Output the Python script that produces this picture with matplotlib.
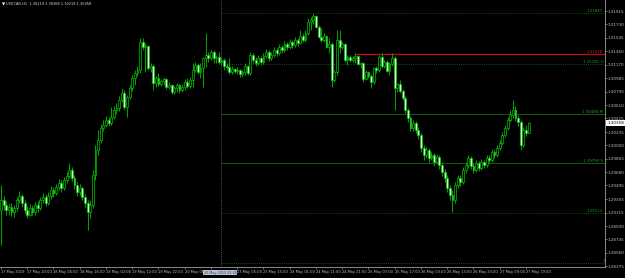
import numpy as np
import matplotlib.pyplot as plt
from matplotlib.transforms import blended_transform_factory

# USDCAD H1 candles
opens = [1.2915, 1.2929, 1.2922, 1.2915, 1.2919, 1.2912, 1.2918, 1.2929, 1.2935, 1.2925,
         1.2915, 1.2909, 1.2918, 1.2912, 1.2922, 1.2918, 1.2929, 1.2933, 1.2925, 1.2935,
         1.2943, 1.2939, 1.2947, 1.2953, 1.2946, 1.2957, 1.2963, 1.2971, 1.2960, 1.2950,
         1.2940, 1.2946, 1.2933, 1.2925, 1.2912, 1.2922, 1.2964, 1.2999, 1.3012, 1.3029,
         1.3033, 1.3040, 1.3036, 1.3044, 1.3054, 1.3057, 1.3068, 1.3078, 1.3058, 1.3072,
         1.3085, 1.3099, 1.3106, 1.3110, 1.3148, 1.3142, 1.3143, 1.3112, 1.3115, 1.3092,
         1.3099, 1.3090, 1.3094, 1.3097, 1.3086, 1.3089, 1.3079, 1.3085, 1.3089, 1.3082,
         1.3086, 1.3093, 1.3087, 1.3096, 1.3110, 1.3117, 1.3107, 1.3112, 1.3126, 1.3130,
         1.3126, 1.3135, 1.3126, 1.3128, 1.3121, 1.3124, 1.3115, 1.3114, 1.3107, 1.3111,
         1.3108, 1.3110, 1.3104, 1.3107, 1.3115, 1.3106, 1.3130, 1.3124, 1.3119, 1.3126,
         1.3121, 1.3129, 1.3135, 1.3126, 1.3130, 1.3137, 1.3133, 1.3142, 1.3137, 1.3146,
         1.3142, 1.3148, 1.3144, 1.3151, 1.3147, 1.3157, 1.3151, 1.3161, 1.3176, 1.3179,
         1.3185, 1.3169, 1.3155, 1.3151, 1.3157, 1.3142, 1.3146, 1.3096, 1.3107, 1.3151,
         1.3142, 1.3146, 1.3124, 1.3128, 1.3124, 1.3126, 1.3129, 1.3118, 1.3119, 1.3097,
         1.3107, 1.3101, 1.3093, 1.3112, 1.3110, 1.3128, 1.3115, 1.3121, 1.3108, 1.3118,
         1.3126, 1.3085, 1.3090, 1.3080, 1.3071, 1.3054, 1.3043, 1.3029, 1.3036, 1.3026,
         1.3019, 1.3001, 1.2992, 1.2999, 1.2987, 1.2992, 1.2982, 1.2989, 1.2978, 1.2968,
         1.2960, 1.2946, 1.2936, 1.2929, 1.2950, 1.2960, 1.2954, 1.2971, 1.2978, 1.2987,
         1.2976, 1.2971, 1.2981, 1.2974, 1.2982, 1.2978, 1.2987, 1.2985, 1.2996, 1.2992,
         1.3001, 1.3008, 1.3019, 1.3029, 1.3040, 1.3047, 1.3054, 1.3043, 1.3037, 1.3006,
         1.3026, 1.30219]
highs = [1.2950, 1.2935, 1.2928, 1.2923, 1.2925, 1.2922, 1.2933, 1.2942, 1.2937, 1.2929,
         1.2921, 1.2923, 1.2922, 1.2926, 1.2928, 1.2933, 1.2939, 1.2937, 1.2940, 1.2949,
         1.2947, 1.2951, 1.2958, 1.2957, 1.2961, 1.2968, 1.2981, 1.2975, 1.2964, 1.2954,
         1.2951, 1.2949, 1.2937, 1.2929, 1.2929, 1.2971, 1.3006, 1.3026, 1.3035, 1.3040,
         1.3046, 1.3044, 1.3058, 1.3060, 1.3064, 1.3074, 1.3085, 1.3082, 1.3075, 1.3089,
         1.3103, 1.3110, 1.3115, 1.3154, 1.3154, 1.3147, 1.3144, 1.3119, 1.3118, 1.3101,
         1.3106, 1.3097, 1.3100, 1.3099, 1.3093, 1.3090, 1.3087, 1.3092, 1.3090, 1.3090,
         1.3097, 1.3099, 1.3100, 1.3119, 1.3121, 1.3119, 1.3119, 1.3128, 1.3161, 1.3135,
         1.3137, 1.3137, 1.3130, 1.3135, 1.3128, 1.3126, 1.3119, 1.3126, 1.3115, 1.3112,
         1.3114, 1.3111, 1.3110, 1.3119, 1.3117, 1.3135, 1.3133, 1.3128, 1.3130, 1.3129,
         1.3133, 1.3139, 1.3137, 1.3135, 1.3142, 1.3140, 1.3146, 1.3144, 1.3150, 1.3148,
         1.3153, 1.3151, 1.3155, 1.3154, 1.3165, 1.3161, 1.3165, 1.3182, 1.3183, 1.3189,
         1.3186, 1.3172, 1.3168, 1.3161, 1.3158, 1.3154, 1.3148, 1.3110, 1.3165, 1.3165,
         1.3148, 1.3147, 1.3130, 1.3130, 1.3129, 1.3133, 1.3130, 1.3121, 1.3121, 1.3110,
         1.3108, 1.3104, 1.3114, 1.3115, 1.3130, 1.3133, 1.3124, 1.3124, 1.3121, 1.3133,
         1.3129, 1.3092, 1.3096, 1.3083, 1.3074, 1.3057, 1.3046, 1.3040, 1.3039, 1.3031,
         1.3022, 1.3006, 1.3003, 1.3001, 1.2996, 1.2994, 1.2993, 1.2992, 1.2982, 1.2972,
         1.2964, 1.2950, 1.2943, 1.2954, 1.2964, 1.2964, 1.2975, 1.2982, 1.2992, 1.2990,
         1.2981, 1.2985, 1.2983, 1.2986, 1.2985, 1.2992, 1.2992, 1.3000, 1.2999, 1.3006,
         1.3012, 1.3024, 1.3033, 1.3044, 1.3054, 1.3068, 1.3060, 1.3047, 1.3040, 1.3031,
         1.3033, 1.30368]
lows = [1.2867, 1.2915, 1.2909, 1.2908, 1.2907, 1.2905, 1.2914, 1.2925, 1.2919, 1.2911,
        1.2904, 1.2907, 1.2908, 1.2909, 1.2912, 1.2915, 1.2925, 1.2921, 1.2922, 1.2930,
        1.2933, 1.2936, 1.2943, 1.2940, 1.2943, 1.2953, 1.2960, 1.2956, 1.2944, 1.2935,
        1.2936, 1.2929, 1.2919, 1.2888, 1.2904, 1.2918, 1.2957, 1.2992, 1.3008, 1.3025,
        1.3031, 1.3032, 1.3033, 1.3041, 1.3049, 1.3053, 1.3065, 1.3054, 1.3044, 1.3069,
        1.3080, 1.3089, 1.3101, 1.3106, 1.3137, 1.3107, 1.3110, 1.3107, 1.3082, 1.3086,
        1.3087, 1.3087, 1.3089, 1.3083, 1.3083, 1.3076, 1.3076, 1.3079, 1.3078, 1.3079,
        1.3082, 1.3085, 1.3085, 1.3086, 1.3107, 1.3104, 1.3099, 1.3086, 1.3114, 1.3121,
        1.3124, 1.3119, 1.3119, 1.3118, 1.3117, 1.3110, 1.3110, 1.3104, 1.3104, 1.3106,
        1.3104, 1.3100, 1.3101, 1.3103, 1.3103, 1.3103, 1.3119, 1.3115, 1.3117, 1.3117,
        1.3118, 1.3126, 1.3122, 1.3124, 1.3128, 1.3129, 1.3130, 1.3133, 1.3135, 1.3137,
        1.3139, 1.3140, 1.3142, 1.3143, 1.3146, 1.3148, 1.3148, 1.3158, 1.3165, 1.3173,
        1.3168, 1.3154, 1.3148, 1.3148, 1.3140, 1.3133, 1.3086, 1.3093, 1.3103, 1.3133,
        1.3139, 1.3121, 1.3117, 1.3121, 1.3121, 1.3119, 1.3117, 1.3112, 1.3093, 1.3096,
        1.3099, 1.3085, 1.3090, 1.3106, 1.3107, 1.3112, 1.3112, 1.3107, 1.3103, 1.3115,
        1.3054, 1.3079, 1.3078, 1.3068, 1.3050, 1.3037, 1.3025, 1.3025, 1.3022, 1.3014,
        1.2996, 1.2985, 1.2987, 1.2982, 1.2985, 1.2976, 1.2979, 1.2972, 1.2963, 1.2954,
        1.2940, 1.2929, 1.2912, 1.2925, 1.2946, 1.2949, 1.2951, 1.2967, 1.2974, 1.2972,
        1.2967, 1.2968, 1.2969, 1.2971, 1.2974, 1.2975, 1.2981, 1.2982, 1.2987, 1.2989,
        1.2999, 1.3006, 1.3017, 1.3026, 1.3037, 1.3043, 1.3039, 1.3032, 1.2999, 1.3003,
        1.3018, 1.30219]
closes = [1.2929, 1.2922, 1.2915, 1.2919, 1.2912, 1.2918, 1.2929, 1.2935, 1.2925, 1.2915,
          1.2909, 1.2918, 1.2912, 1.2922, 1.2918, 1.2929, 1.2933, 1.2925, 1.2935, 1.2943,
          1.2939, 1.2947, 1.2953, 1.2946, 1.2957, 1.2963, 1.2971, 1.2960, 1.2950, 1.2940,
          1.2946, 1.2933, 1.2925, 1.2912, 1.2922, 1.2964, 1.2999, 1.3012, 1.3029, 1.3033,
          1.3040, 1.3036, 1.3044, 1.3054, 1.3057, 1.3068, 1.3078, 1.3058, 1.3072, 1.3085,
          1.3099, 1.3106, 1.3110, 1.3148, 1.3142, 1.3143, 1.3112, 1.3115, 1.3092, 1.3099,
          1.3090, 1.3094, 1.3097, 1.3086, 1.3089, 1.3079, 1.3085, 1.3089, 1.3082, 1.3086,
          1.3093, 1.3087, 1.3096, 1.3110, 1.3117, 1.3107, 1.3112, 1.3126, 1.3130, 1.3126,
          1.3135, 1.3126, 1.3128, 1.3121, 1.3124, 1.3115, 1.3114, 1.3107, 1.3111, 1.3108,
          1.3110, 1.3104, 1.3107, 1.3115, 1.3106, 1.3130, 1.3124, 1.3119, 1.3126, 1.3121,
          1.3129, 1.3135, 1.3126, 1.3130, 1.3137, 1.3133, 1.3142, 1.3137, 1.3146, 1.3142,
          1.3148, 1.3144, 1.3151, 1.3147, 1.3157, 1.3151, 1.3161, 1.3176, 1.3179, 1.3185,
          1.3169, 1.3155, 1.3151, 1.3157, 1.3142, 1.3146, 1.3096, 1.3107, 1.3151, 1.3142,
          1.3146, 1.3124, 1.3128, 1.3124, 1.3126, 1.3129, 1.3118, 1.3119, 1.3097, 1.3107,
          1.3101, 1.3093, 1.3112, 1.3110, 1.3128, 1.3115, 1.3121, 1.3108, 1.3118, 1.3126,
          1.3085, 1.3090, 1.3080, 1.3071, 1.3054, 1.3043, 1.3029, 1.3036, 1.3026, 1.3019,
          1.3001, 1.2992, 1.2999, 1.2987, 1.2992, 1.2982, 1.2989, 1.2978, 1.2968, 1.2960,
          1.2946, 1.2936, 1.2929, 1.2950, 1.2960, 1.2954, 1.2971, 1.2978, 1.2987, 1.2976,
          1.2971, 1.2981, 1.2974, 1.2982, 1.2978, 1.2987, 1.2985, 1.2996, 1.2992, 1.3001,
          1.3008, 1.3019, 1.3029, 1.3040, 1.3047, 1.3054, 1.3043, 1.3037, 1.3006, 1.3026,
          1.30219, 1.30358]

# bottom time scale, one label every 10 bars (the one under the time box is hidden)
time_labels = ['17 May 2019', '17 May 20:00', '18 May 06:00', '18 May 16:00', '19 May 02:00',
               '19 May 12:00', '19 May 22:00', '20 May 08:00', '', '23 May 05:00',
               '23 May 15:00', '24 May 01:00', '24 May 11:00', '24 May 21:00', '25 May 07:00',
               '25 May 17:00', '26 May 03:00', '26 May 13:00', '26 May 23:00', '27 May 09:00',
               '27 May 19:00']
time_label_bars = list(range(0, 201, 10))

price_ticks = [1.31915, 1.31730, 1.31545, 1.31360, 1.31170, 1.30985, 1.30795, 1.30610,
               1.30425, 1.30235, 1.30050, 1.29865, 1.29680, 1.29495, 1.29305, 1.29115,
               1.28930, 1.28745, 1.28560, 1.28375]

# horizontal objects
level_values = [1.31887, 1.31181, 1.30488, 1.29799, 1.29113, 1.28411]
level_texts = ['1.31887', '1.31181 O', '1.30488 M', '1.29799 S', '1.29113', '1.28411']
red_level = 1.31318
vline_bar = 84
red_start_bar = 135
vline_time = '20 May 2019 22:00'
bid = 1.30358
title = 'USDCAD,H1  1.30219 1.30368 1.30219 1.30358'

fig = plt.figure(figsize=(6.25, 2.78), dpi=100, facecolor='black')
ax = fig.add_axes([0, 11 / 278, 605 / 625, 267 / 278])
ax.set_facecolor('black')

o = np.array(opens)
h = np.array(highs)
l = np.array(lows)
c = np.array(closes)
idx = np.arange(len(c))
up = c >= o

xmax = 230.1
ax.set_xlim(-0.38, xmax)
ax.set_ylim(1.28362, 1.32068)

# candles: wicks, then bodies (bull = black, bear = white, green-on-black scheme)
ax.vlines(idx, l, h, color='#00a800', lw=0.7, zorder=3)
faces = np.where(up, 'black', '#d4f4d4')
ax.bar(idx, np.abs(c - o), bottom=np.minimum(o, c), width=0.7, color=faces,
       edgecolor='#00c400', linewidth=0.5, zorder=4)

# levels
styles = [(0, (1, 1.5)), (0, (1, 1.5)), '-', '-', (0, (1, 1.5)), (0, (1, 1.5))]
tr_axy = blended_transform_factory(ax.transAxes, ax.transData)
for val, st in zip(level_values, styles):
    ax.hlines(val, vline_bar, xmax, color='#0f6e0f', lw=0.6, linestyles=st, zorder=2)
for val, txt in zip(level_values[:-1], level_texts[:-1]):
    ax.text(0.997, val, txt, transform=tr_axy, ha='right', va='bottom',
            fontsize=2.8, color='#22a022', zorder=6)
ax.text(0.9965, level_values[-1], level_texts[-1], transform=tr_axy, ha='left',
        va='bottom', fontsize=2.8, color='#22a022', clip_on=True, zorder=6)

ax.hlines(red_level, red_start_bar, xmax, color='#c01010', lw=0.9, zorder=2)
ax.text(0.997, red_level, f'{red_level:.5f}', transform=tr_axy, ha='right', va='bottom',
        fontsize=2.8, color='#d02020', zorder=6)

ax.axvline(vline_bar, color='#707070', lw=0.6, ls=(0, (1, 1.5)), zorder=1)

# axes
for s in ['left', 'top']:
    ax.spines[s].set_visible(False)
for s in ['right', 'bottom']:
    ax.spines[s].set_color('#a0a0a0')
    ax.spines[s].set_linewidth(0.6)

ax.yaxis.tick_right()
ax.set_yticks(price_ticks)
ax.set_yticklabels([f'{v:.5f}' for v in price_ticks])
ax.tick_params(axis='y', colors='#c0c0c0', labelsize=3, length=1.5, width=0.4, pad=0.5)
ax.set_xticks(time_label_bars)
ax.set_xticklabels(time_labels, ha='left')
ax.tick_params(axis='x', colors='#c0c0c0', labelsize=2.6, length=1.5, width=0.4, pad=0.6)

# time label of the vertical line
tr_xax = blended_transform_factory(ax.transData, ax.transAxes)
ax.text(vline_bar - 0.5, -0.021, vline_time, transform=tr_xax, ha='center', va='center',
        fontsize=2.4, color='#3a4258', clip_on=False, zorder=10,
        bbox=dict(boxstyle='square,pad=0.25', fc='#b8c0d8', ec='none'))

# current bid
ax.text(1.0035, bid, f'{bid:.5f}', transform=tr_axy, ha='left', va='center', fontsize=3,
        color='black', clip_on=False, zorder=10,
        bbox=dict(boxstyle='square,pad=0.2', fc='white', ec='none'))

# title
ax.text(0.003, 0.985, '▼', transform=ax.transAxes, ha='left', va='center',
        fontsize=3, color='white')
ax.text(0.0105, 0.985, title, transform=ax.transAxes, ha='left', va='center',
        fontsize=2.5, color='#e0e0e0')

fig.savefig('out.png', dpi=100, facecolor='black')
